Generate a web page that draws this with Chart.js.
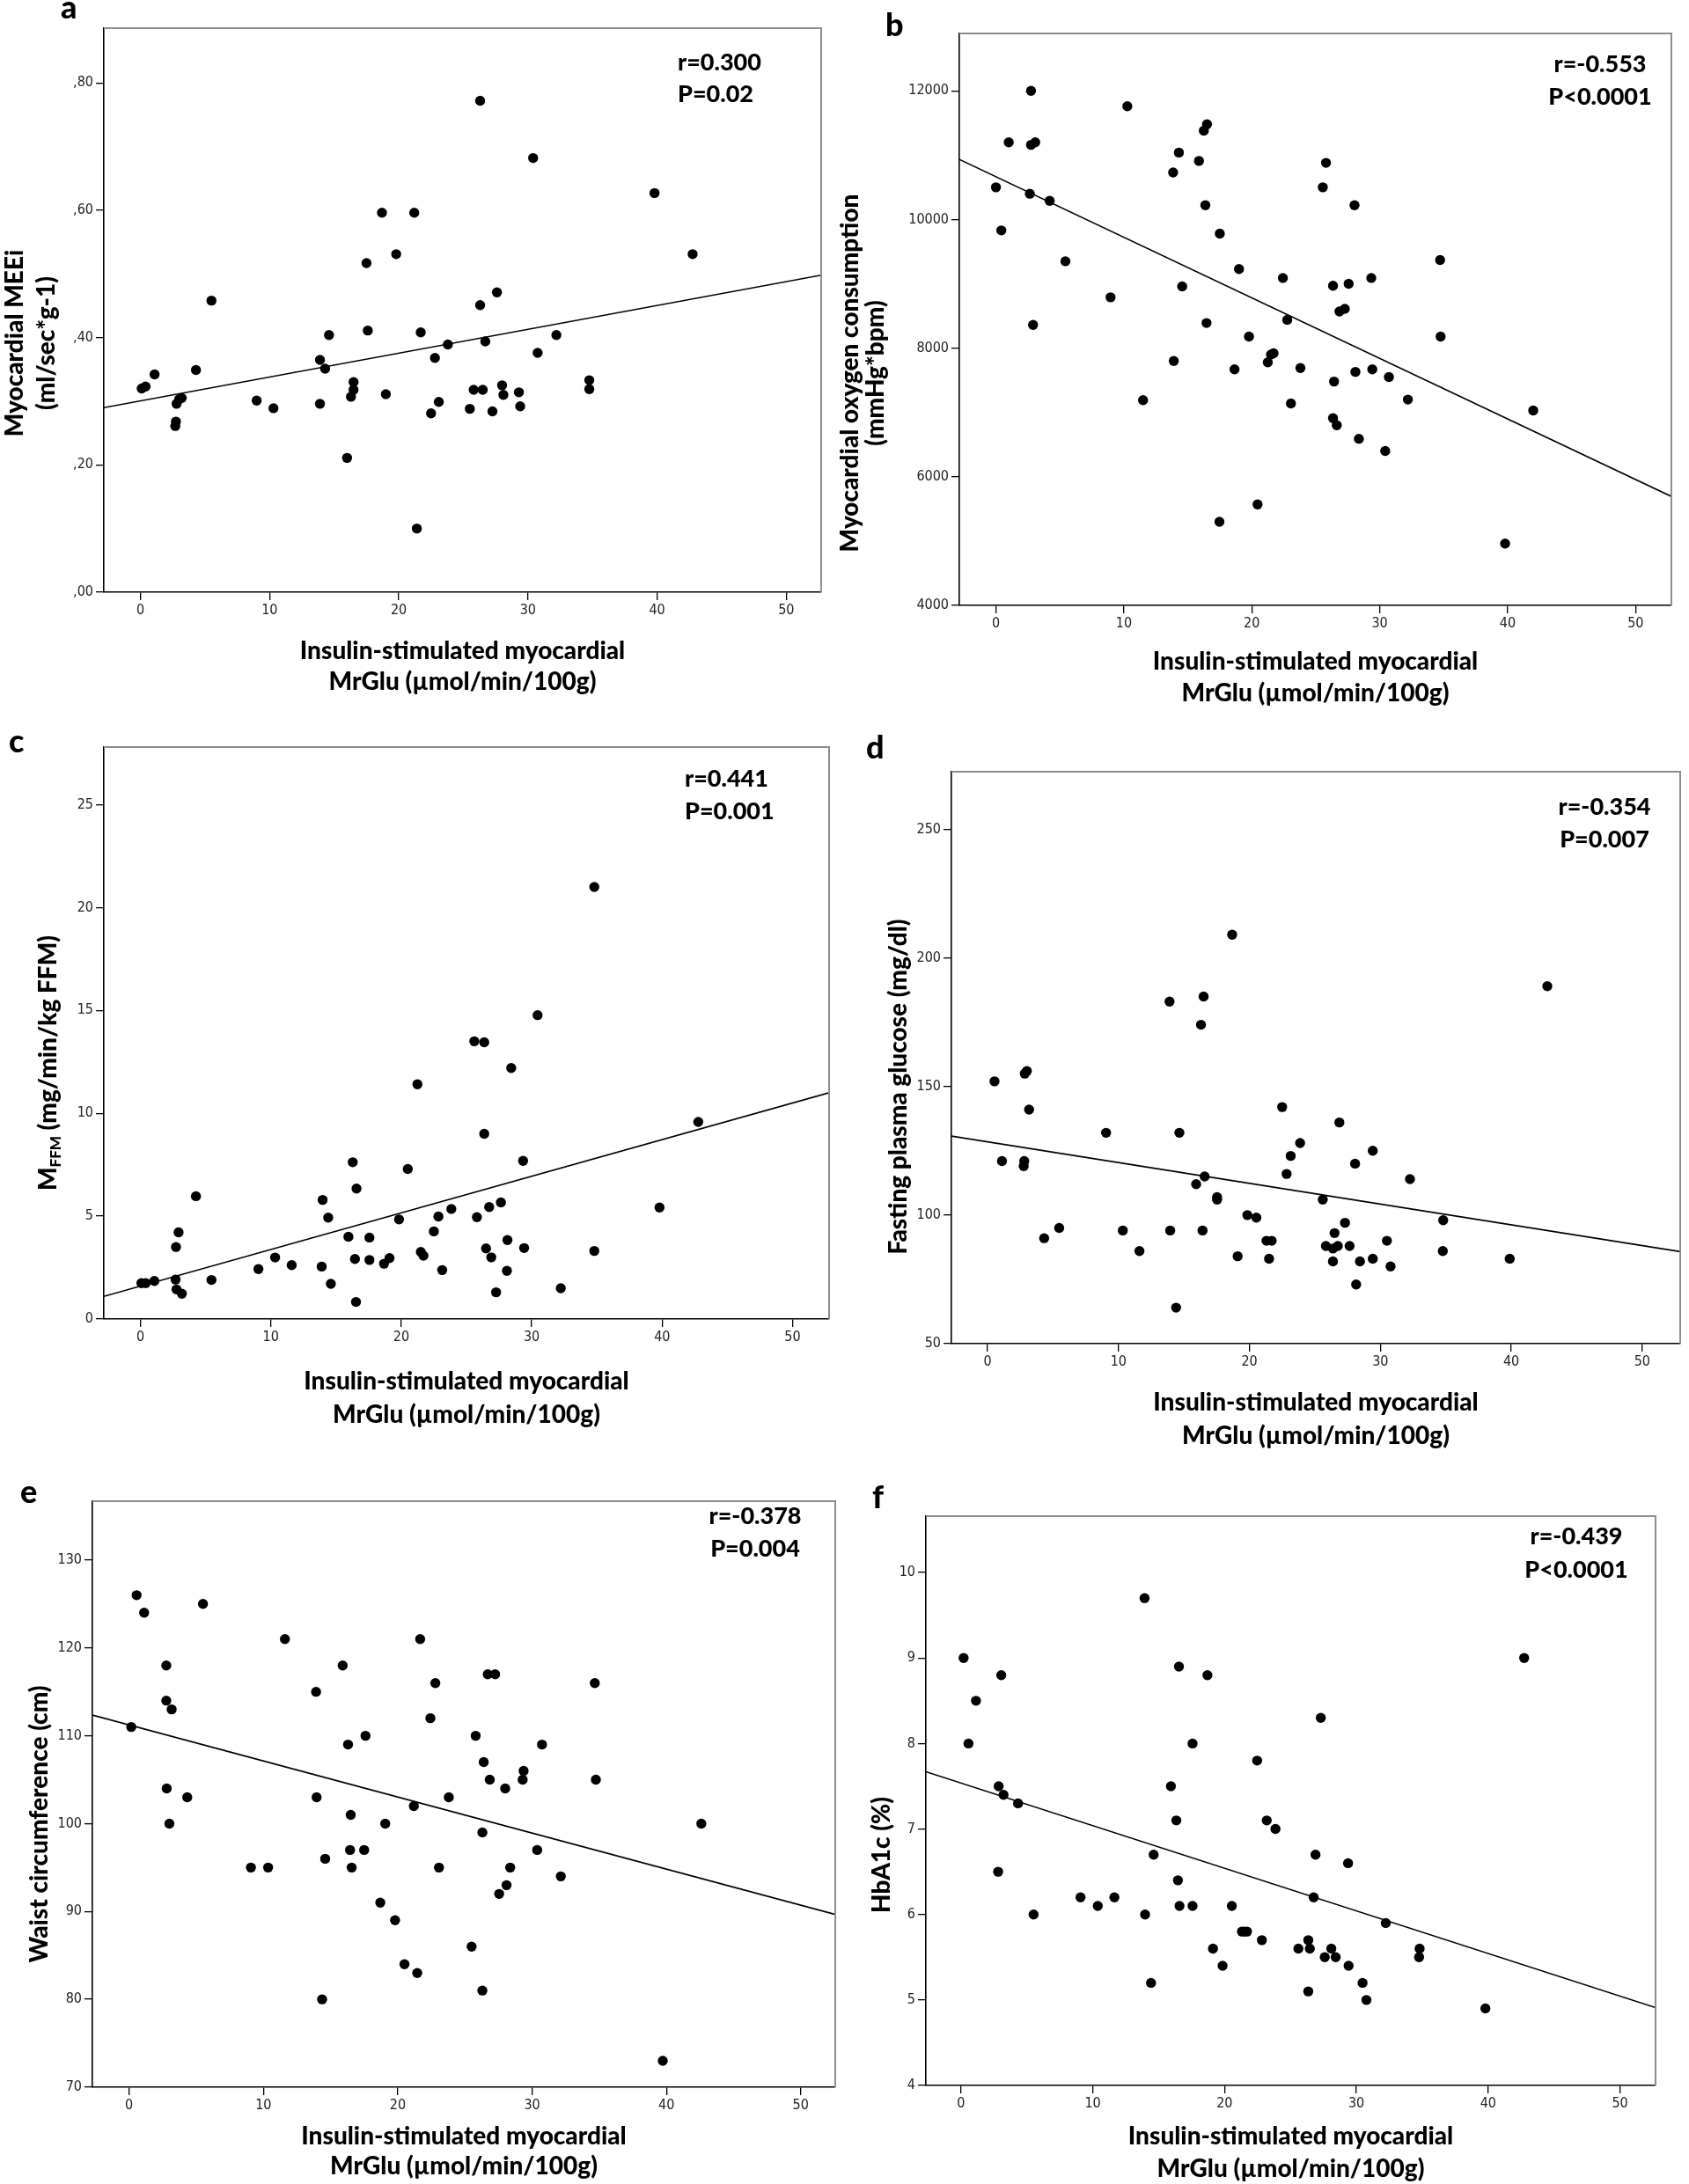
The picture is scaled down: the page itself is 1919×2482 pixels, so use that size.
<!DOCTYPE html>
<html>
<head>
<meta charset="utf-8">
<script src="https://cdn.jsdelivr.net/npm/chart.js@4.4.1/dist/chart.umd.min.js"></script>
<style>
html,body{margin:0;padding:0;background:#fff;}
body{width:1919px;height:2482px;position:relative;overflow:hidden;}
canvas{position:absolute;}
</style>
</head>
<body>
<canvas id="ca"></canvas>
<canvas id="cb"></canvas>
<canvas id="cc"></canvas>
<canvas id="cd"></canvas>
<canvas id="ce"></canvas>
<canvas id="cf"></canvas>
<script>
// ---------- shared x axis ----------
const xTickValues = [0, 10, 20, 30, 40, 50];
const xTickLabels = ['0', '10', '20', '30', '40', '50'];
const xTitleLines = ['Insulin-stimulated myocardial', 'MrGlu (\u00b5mol/min/100g)'];

// ---------- panel a: Myocardial MEEi ----------
const aX = [0.1,0.4,1.1,2.7,2.75,2.8,3.0,3.2,4.3,5.5,9.0,10.3,13.9,13.9,14.3,14.6,16.0,16.3,16.5,16.5,17.5,17.6,18.7,19.0,19.8,21.2,21.4,21.7,22.5,22.8,23.1,23.8,25.5,25.8,26.3,26.3,26.5,26.7,27.25,27.6,28.0,28.1,29.3,29.4,30.4,30.75,32.2,34.75,34.75,39.8,42.75];
const aY = [0.320,0.323,0.342,0.261,0.268,0.296,0.303,0.305,0.349,0.458,0.301,0.289,0.365,0.296,0.351,0.404,0.211,0.307,0.318,0.330,0.517,0.411,0.596,0.311,0.531,0.596,0.100,0.408,0.281,0.368,0.299,0.389,0.288,0.318,0.772,0.451,0.318,0.394,0.284,0.471,0.325,0.310,0.314,0.292,0.682,0.376,0.404,0.333,0.319,0.627,0.531];
const aFitX = [-2.83, 52.7];
const aFitY = [0.29, 0.498];
const aXRange = [-2.83, 52.7];
const aYRange = [0, 0.886];
const aYTicks = [0, 0.2, 0.4, 0.6, 0.8];
const aYTickLabels = [',00', ',20', ',40', ',60', ',80'];
const aStat = ['r=0.300', 'P=0.02'];

// ---------- panel b: Myocardial oxygen consumption ----------
const bX = [0.0,0.42,1.0,2.74,2.74,2.65,3.07,2.9,4.2,5.43,8.96,10.27,11.5,13.85,13.9,14.3,14.56,15.87,16.25,16.5,16.37,16.46,17.5,17.47,18.65,19.0,19.78,20.45,21.25,21.5,21.7,22.43,22.77,23.06,23.8,25.55,25.8,26.35,26.43,26.35,26.64,26.85,27.27,27.57,28.03,28.1,28.37,29.34,29.42,30.43,30.72,32.2,34.72,34.76,39.8,42.0];
const bY = [10500,9830,11200,12000,11160,10400,11200,8360,10290,9350,8790,11760,7190,10730,7800,11040,8960,10910,11380,11480,10220,8390,9780,5300,7670,9230,8180,5570,7780,7900,7920,9090,8440,7140,7690,10500,10880,8970,7480,6910,6800,8570,8610,9000,10220,7630,6590,9090,7670,6400,7550,7200,9370,8180,4960,7030];
const bFitX = [-2.86, 52.8];
const bFitY = [10934, 5693];
const bXRange = [-2.86, 52.8];
const bYRange = [4000, 12892];
const bYTicks = [4000, 6000, 8000, 10000, 12000];
const bYTickLabels = ['4000', '6000', '8000', '10000', '12000'];
const bStat = ['r=-0.553', 'P<0.0001'];

// ---------- panel c: M FFM ----------
const cX = [0.08,0.41,1.07,2.7,2.73,2.77,2.93,3.18,4.26,5.45,9.05,10.33,11.6,13.9,13.97,14.4,14.6,15.95,16.28,16.45,16.57,16.53,17.56,17.56,18.68,19.1,19.83,20.5,21.24,21.5,21.7,22.5,22.85,23.14,23.84,25.6,25.8,26.36,26.36,26.5,26.74,26.9,27.27,27.64,28.14,28.1,28.43,29.34,29.42,30.45,32.23,34.8,34.8,39.8,42.77];
const cY = [1.74,1.74,1.85,1.92,3.50,1.44,4.21,1.23,5.97,1.90,2.43,2.99,2.62,2.55,5.79,4.93,1.71,4.00,7.62,2.92,6.34,0.83,3.96,2.87,2.69,2.96,4.84,7.29,11.41,3.26,3.08,4.26,4.98,2.38,5.35,13.5,4.95,13.45,9.0,3.43,5.44,3.0,1.30,5.67,3.84,2.34,12.2,7.69,3.45,14.77,1.50,21.0,3.31,5.42,9.58];
const cFitX = [-2.8, 52.8];
const cFitY = [1.1, 11.0];
const cXRange = [-2.8, 52.8];
const cYRange = [0, 27.8];
const cYTicks = [0, 5, 10, 15, 20, 25];
const cYTickLabels = ['0', '5', '10', '15', '20', '25'];
const cStat = ['r=0.441', 'P=0.001'];

// ---------- panel d: Fasting plasma glucose ----------
const dX = [0.53,1.1,2.76,2.8,2.84,3.0,3.17,4.32,5.47,9.05,10.33,11.6,13.9,13.95,14.4,14.65,15.93,16.3,16.42,16.5,16.58,17.53,17.53,18.68,19.1,19.84,20.53,21.3,21.5,21.7,22.5,22.84,23.15,23.87,25.6,25.84,26.38,26.38,26.5,26.75,26.87,27.3,27.65,28.07,28.15,28.44,29.42,29.42,30.5,30.78,32.26,34.8,34.77,39.88,42.75];
const dY = [152,121,119,121,155,156,141,91,95,132,94,86,183,94,64,132,112,174,94,185,115,106,107,209,84,100,99,90,83,90,142,116,123,128,106,88,87,82,93,88,136,97,88,120,73,82,125,83,90,80,114,98,86,83,189];
const dFitX = [-2.76, 52.9];
const dFitY = [130.7, 85.8];
const dXRange = [-2.76, 52.9];
const dYRange = [50, 272.4];
const dYTicks = [50, 100, 150, 200, 250];
const dYTickLabels = ['50', '100', '150', '200', '250'];
const dStat = ['r=-0.354', 'P=0.007'];

// ---------- panel e: Waist circumference ----------
const eX = [0.16,0.56,1.12,2.77,2.77,2.8,3.0,3.17,4.33,5.5,9.07,10.35,11.6,13.92,13.96,14.37,14.6,15.9,16.3,16.45,16.5,16.57,17.5,17.6,18.7,19.07,19.8,20.5,21.2,21.45,21.67,22.43,22.8,23.07,23.8,25.5,25.8,26.3,26.3,26.4,26.7,26.85,27.25,27.55,28.0,28.1,28.37,29.3,29.37,30.38,30.74,32.14,34.67,34.75,39.73,42.6];
const eY = [111,126,124,118,114,104,100,113,103,125,95,95,121,115,103,80,96,118,109,97,101,95,97,110,91,100,89,84,102,83,121,112,116,95,103,86,110,99,81,107,117,105,117,92,104,93,95,105,106,97,109,94,116,105,73,100];
const eFitX = [-2.73, 52.57];
const eFitY = [112.35, 89.66];
const eXRange = [-2.73, 52.57];
const eYRange = [70, 136.7];
const eYTicks = [70, 80, 90, 100, 110, 120, 130];
const eYTickLabels = ['70', '80', '90', '100', '110', '120', '130'];
const eStat = ['r=-0.378', 'P=0.004'];

// ---------- panel f: HbA1c ----------
const fX = [0.2,0.57,1.14,2.86,2.82,3.06,3.23,4.33,5.51,9.07,10.38,11.64,13.93,13.97,14.42,14.62,15.93,16.34,16.46,16.54,16.58,17.57,17.57,18.7,19.12,19.85,20.55,21.32,21.5,21.7,22.47,22.83,23.2,23.86,25.6,26.35,26.35,26.47,26.76,26.9,27.3,27.6,28.1,28.43,29.37,29.41,30.47,30.76,32.23,34.76,34.8,39.79,42.73];
const fY = [9.0,8.0,8.5,7.5,6.5,8.8,7.4,7.3,6.0,6.2,6.1,6.2,9.7,6.0,5.2,6.7,7.5,7.1,6.4,8.9,6.1,8.0,6.1,8.8,5.6,5.4,6.1,5.8,5.8,5.8,7.8,5.7,7.1,7.0,5.6,5.7,5.1,5.6,6.2,6.7,8.3,5.5,5.6,5.5,6.6,5.4,5.2,5.0,5.9,5.5,5.6,4.9,9.0];
const fFitX = [-2.66, 52.7];
const fFitY = [7.67, 4.91];
const fXRange = [-2.66, 52.7];
const fYRange = [4, 10.66];
const fYTicks = [4, 5, 6, 7, 8, 9, 10];
const fYTickLabels = ['4', '5', '6', '7', '8', '9', '10'];
const fStat = ['r=-0.439', 'P<0.0001'];

// ---------- layout / styling ----------
const TITLE_FONT = '900 28px Lato, "Open Sans", sans-serif';
const SUB_FONT = '900 17px Lato, "Open Sans", sans-serif';
const STAT_FONT = '900 27px Lato, "Open Sans", sans-serif';
const LETTER_FONT = '900 36px Lato, "Open Sans", sans-serif';
const TICK_FAMILY = '"Liberation Sans Narrow", "Arial Narrow", "DejaVu Sans Condensed", "Liberation Sans", Arial, sans-serif';

const PANELS = [
  { id:'a', canvas:[0,0,960,810], box:[118,32,933,673],
    xs:aX, ys:aY, fx:aFitX, fy:aFitY, xr:aXRange, yr:aYRange, yt:aYTicks, ytl:aYTickLabels, stat:aStat,
    letter:{t:'a', x:69, y:21},
    yTitle:{lines:[[{t:'Myocardial MEEi'}],[{t:'(ml/sec*g-1)'}]], xs:[16,52], yc:390},
    xTitleY:[740,775], statPos:{x:770, ys:[71,107], align:'left'} },
  { id:'b', canvas:[940,0,979,810], box:[1090,38,1899,688],
    xs:bX, ys:bY, fx:bFitX, fy:bFitY, xr:bXRange, yr:bYRange, yt:bYTicks, ytl:bYTickLabels, stat:bStat,
    letter:{t:'b', x:1006, y:41},
    yTitle:{lines:[[{t:'Myocardial oxygen consumption'}],[{t:'(mmHg*bpm)'}]], xs:[965,994], yc:424},
    xTitleY:[752,788], statPos:{x:1818, ys:[73,110], align:'center'} },
  { id:'c', canvas:[0,810,960,840], box:[118,849,942,1499],
    xs:cX, ys:cY, fx:cFitX, fy:cFitY, xr:cXRange, yr:cYRange, yt:cYTicks, ytl:cYTickLabels, stat:cStat,
    letter:{t:'c', x:10, y:855},
    yTitle:{lines:[[{t:'M'},{t:'FFM', sub:true},{t:' (mg/min/kg FFM)'}]], xs:[54], yc:1208},
    xTitleY:[1570,1608], statPos:{x:778, ys:[885,922], align:'left'} },
  { id:'d', canvas:[940,810,979,840], box:[1081,877,1909,1527],
    xs:dX, ys:dY, fx:dFitX, fy:dFitY, xr:dXRange, yr:dYRange, yt:dYTicks, ytl:dYTickLabels, stat:dStat,
    letter:{t:'d', x:984, y:862},
    yTitle:{lines:[[{t:'Fasting plasma glucose (mg/dl)'}]], xs:[1020], yc:1235},
    xTitleY:[1594,1632], statPos:{x:1823, ys:[917,954], align:'center'} },
  { id:'e', canvas:[0,1650,960,832], box:[105,1706,949,2372],
    xs:eX, ys:eY, fx:eFitX, fy:eFitY, xr:eXRange, yr:eYRange, yt:eYTicks, ytl:eYTickLabels, stat:eStat,
    letter:{t:'e', x:23, y:1708},
    yTitle:{lines:[[{t:'Waist circumference (cm)'}]], xs:[44], yc:2073},
    xTitleY:[2428,2462], statPos:{x:858, ys:[1723,1760], align:'center'} },
  { id:'f', canvas:[940,1650,979,832], box:[1052,1723,1881,2370],
    xs:fX, ys:fY, fx:fFitX, fy:fFitY, xr:fXRange, yr:fYRange, yt:fYTicks, ytl:fYTickLabels, stat:fStat,
    letter:{t:'f', x:991, y:1714},
    yTitle:{lines:[[{t:'HbA1c (%)'}]], xs:[1001], yc:2108},
    xTitleY:[2428,2465], statPos:{x:1791, ys:[1746,1784], align:'center'} }
];

function drawRotated(ctx, segs, x, y) {
  ctx.save();
  ctx.translate(x, y);
  ctx.rotate(-Math.PI / 2);
  ctx.textBaseline = 'alphabetic';
  ctx.textAlign = 'left';
  let total = 0;
  const widths = segs.map(s => { ctx.font = s.sub ? SUB_FONT : TITLE_FONT; const w = ctx.measureText(s.t).width; total += w; return w; });
  let cur = -total / 2;
  const base = 10;
  segs.forEach((s, i) => {
    ctx.font = s.sub ? SUB_FONT : TITLE_FONT;
    ctx.fillText(s.t, cur, s.sub ? base + 5 : base);
    cur += widths[i];
  });
  ctx.restore();
}

function spssPlugin(p) {
  return {
    id: 'spss' + p.id,
    afterDraw(chart) {
      const ctx = chart.ctx;
      const cx = p.canvas[0], cy = p.canvas[1];
      const a = chart.chartArea;
      ctx.save();
      // top and right frame (grey)
      ctx.strokeStyle = '#8c8c8c';
      ctx.lineWidth = 2;
      ctx.beginPath();
      ctx.moveTo(a.left, a.top);
      ctx.lineTo(a.right, a.top);
      ctx.lineTo(a.right, a.bottom);
      ctx.stroke();
      ctx.fillStyle = '#000';
      // panel letter
      ctx.font = LETTER_FONT;
      ctx.textAlign = 'left';
      ctx.textBaseline = 'alphabetic';
      ctx.fillText(p.letter.t, p.letter.x - cx, p.letter.y - cy);
      // x title
      ctx.font = TITLE_FONT;
      ctx.textAlign = 'center';
      ctx.textBaseline = 'middle';
      const xc = (a.left + a.right) / 2;
      xTitleLines.forEach((t, i) => ctx.fillText(t, xc, p.xTitleY[i] - cy));
      // y title
      p.yTitle.lines.forEach((segs, i) => drawRotated(ctx, segs, p.yTitle.xs[i] - cx, p.yTitle.yc - cy));
      // statistics
      ctx.font = STAT_FONT;
      ctx.textAlign = p.statPos.align;
      ctx.textBaseline = 'middle';
      p.stat.forEach((t, i) => ctx.fillText(t, p.statPos.x - cx, p.statPos.ys[i] - cy));
      ctx.restore();
    }
  };
}

function makeChart(p) {
  const cv = document.getElementById('c' + p.id);
  const [cx, cy, cw, ch] = p.canvas;
  const [bl, bt, br, bb] = p.box;
  cv.width = cw; cv.height = ch;
  cv.style.left = cx + 'px'; cv.style.top = cy + 'px';
  cv.style.width = cw + 'px'; cv.style.height = ch + 'px';
  const tickFont = { family: TICK_FAMILY, size: 16 };
  const gridOpt = { drawOnChartArea: false, drawTicks: true, tickLength: 9, color: '#000', lineWidth: 1.3 };
  const borderOpt = { display: true, color: '#000', width: 1.6 };
  new Chart(cv, {
    type: 'scatter',
    data: {
      datasets: [
        { data: p.xs.map((x, i) => ({ x: x, y: p.ys[i] })), pointRadius: 5.7, pointHoverRadius: 5.7,
          backgroundColor: '#000', borderWidth: 0, order: 1 },
        { type: 'line', data: p.fx.map((x, i) => ({ x: x, y: p.fy[i] })), borderColor: '#000',
          borderWidth: 1.6, pointRadius: 0, fill: false, tension: 0, order: 2 }
      ]
    },
    options: {
      responsive: false, animation: false, devicePixelRatio: 1, events: [],
      layout: { padding: { left: 0, top: bt - cy, right: cx + cw - br, bottom: 0 } },
      plugins: { legend: { display: false }, tooltip: { enabled: false } },
      scales: {
        x: {
          type: 'linear', position: 'bottom', min: p.xr[0], max: p.xr[1],
          afterBuildTicks: s => { s.ticks = xTickValues.map(v => ({ value: v })); },
          afterFit: s => { s.height = cy + ch - bb; },
          ticks: { callback: (v, i) => xTickLabels[i], font: tickFont, color: '#222', padding: 2,
                   maxRotation: 0, autoSkip: false },
          grid: gridOpt, border: borderOpt
        },
        y: {
          type: 'linear', position: 'left', min: p.yr[0], max: p.yr[1],
          afterBuildTicks: s => { s.ticks = p.yt.map(v => ({ value: v })); },
          afterFit: s => { s.width = bl - cx; },
          ticks: { callback: (v, i) => p.ytl[i], font: tickFont, color: '#222', padding: 3, autoSkip: false },
          grid: gridOpt, border: borderOpt
        }
      }
    },
    plugins: [spssPlugin(p)]
  });
}

PANELS.forEach(makeChart);
</script>
</body>
</html>
